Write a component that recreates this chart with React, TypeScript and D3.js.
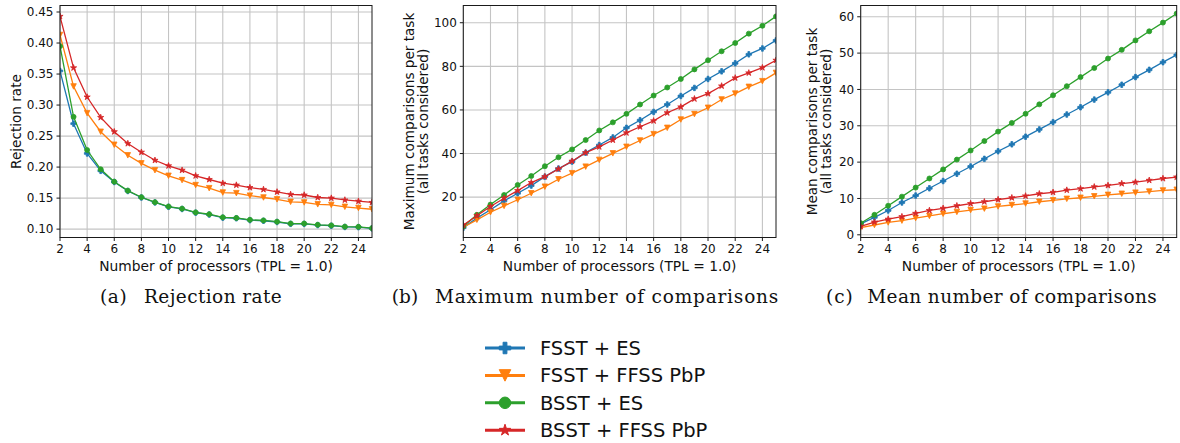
import React from "react";
import * as d3 from "d3";

const processors = [2, 3, 4, 5, 6, 7, 8, 9, 10, 11, 12, 13, 14, 15, 16, 17, 18, 19, 20, 21, 22, 23, 24, 25];
const xTicks = [2, 4, 6, 8, 10, 12, 14, 16, 18, 20, 22, 24];

const seriesNames = ["FSST + ES", "FSST + FFSS PbP", "BSST + ES", "BSST + FFSS PbP"];
const seriesColors = ["#1f77b4", "#ff7f0e", "#2ca02c", "#d62728"];
const seriesMarkers = ["P", "v", "o", "*"];

// (a) Rejection rate
const rejFSSTES = [0.355, 0.270, 0.222, 0.194, 0.176, 0.1615, 0.151, 0.143, 0.136, 0.1325, 0.1265, 0.1235, 0.1185, 0.1175, 0.1145, 0.1135, 0.1115, 0.1085, 0.1085, 0.1065, 0.1055, 0.1035, 0.1032, 0.1012];
const rejFSSTFFSS = [0.413, 0.330, 0.287, 0.257, 0.236, 0.219, 0.206, 0.195, 0.186, 0.179, 0.171, 0.166, 0.159, 0.158, 0.154, 0.151, 0.148, 0.144, 0.143, 0.140, 0.139, 0.136, 0.134, 0.132];
const rejBSSTES = [0.395, 0.281, 0.2275, 0.1965, 0.1765, 0.162, 0.1514, 0.1434, 0.1364, 0.133, 0.127, 0.124, 0.119, 0.118, 0.115, 0.114, 0.112, 0.109, 0.109, 0.107, 0.106, 0.104, 0.1037, 0.1016];
const rejBSSTFFSS = [0.443, 0.360, 0.313, 0.280, 0.257, 0.238, 0.224, 0.211, 0.202, 0.195, 0.186, 0.180, 0.174, 0.171, 0.167, 0.164, 0.160, 0.156, 0.155, 0.151, 0.150, 0.147, 0.145, 0.143];

// (b) Maximum comparisons
const maxFSSTES = [6.0, 10.4, 14.2, 18.3, 21.8, 25.3, 29.4, 33.1, 36.3, 40.4, 43.9, 47.4, 51.8, 55.3, 59.1, 62.5, 66.4, 70.1, 74.2, 77.7, 81.4, 85.5, 88.2, 91.9];
const maxFSSTFFSS = [6.2, 9.6, 13.1, 16.0, 18.8, 21.8, 24.8, 28.2, 31.0, 34.0, 37.1, 40.1, 43.1, 46.0, 48.9, 51.8, 55.6, 58.1, 61.0, 64.8, 67.5, 70.6, 73.2, 77.0];
const maxBSSTES = [6.6, 11.9, 16.6, 21.0, 25.6, 29.7, 34.2, 38.3, 41.9, 46.2, 50.6, 54.3, 58.2, 62.5, 66.6, 70.3, 74.2, 78.6, 82.8, 86.9, 90.7, 95.0, 98.6, 102.9];
const maxBSSTFFSS = [7.2, 11.5, 15.7, 19.5, 23.0, 26.7, 29.4, 32.9, 36.5, 40.4, 43.1, 46.2, 49.5, 52.3, 55.0, 58.7, 61.4, 65.1, 67.5, 71.0, 74.7, 77.0, 79.4, 82.8];

// (c) Mean comparisons
const meanFSSTES = [3.0, 4.8, 6.7, 8.9, 10.8, 12.8, 14.8, 16.8, 18.8, 20.9, 23.0, 24.9, 27.0, 29.0, 31.0, 33.1, 35.1, 37.2, 39.2, 41.3, 43.4, 45.4, 47.5, 49.5];
const meanFSSTFFSS = [2.0, 2.7, 3.4, 3.9, 4.6, 5.2, 5.8, 6.3, 6.8, 7.2, 7.8, 8.2, 8.6, 9.1, 9.5, 9.9, 10.2, 10.6, 11.0, 11.3, 11.6, 11.9, 12.2, 12.4];
const meanBSSTES = [3.2, 5.5, 8.0, 10.5, 13.0, 15.5, 18.0, 20.7, 23.2, 25.8, 28.4, 30.8, 33.3, 35.9, 38.4, 40.9, 43.4, 45.9, 48.5, 50.9, 53.5, 56.0, 58.4, 60.9];
const meanBSSTFFSS = [2.3, 3.5, 4.3, 5.0, 5.9, 6.7, 7.3, 8.0, 8.6, 9.1, 9.7, 10.2, 10.7, 11.3, 11.7, 12.3, 12.7, 13.2, 13.6, 14.1, 14.5, 15.0, 15.5, 15.9];

const rejTicks = [0.10, 0.15, 0.20, 0.25, 0.30, 0.35, 0.40, 0.45];
const maxTicks = [20, 40, 60, 80, 100];
const meanTicks = [0, 10, 20, 30, 40, 50, 60];

const xLabel = "Number of processors (TPL = 1.0)";

const SANS = "'DejaVu Sans', sans-serif";
const SERIF = "'DejaVu Serif', serif";

function markerPath(type: string, s: number): string {
  if (type === "o") {
    const r = s / 2;
    return `M${r},0A${r},${r} 0 1,1 ${-r},0A${r},${r} 0 1,1 ${r},0Z`;
  }
  if (type === "v") {
    const h = s / 2;
    return `M0,${h}L${-h},${-h}L${h},${-h}Z`;
  }
  if (type === "P") {
    const pts = [[-1, -3], [1, -3], [1, -1], [3, -1], [3, 1], [1, 1], [1, 3], [-1, 3], [-1, 1], [-3, 1], [-3, -1], [-1, -1]];
    return "M" + pts.map(([a, b]) => `${(a / 6) * s},${(b / 6) * s}`).join("L") + "Z";
  }
  // star
  const R = s / 2;
  const r = R * 0.381966;
  const pts: string[] = [];
  for (let i = 0; i < 10; i++) {
    const ang = -Math.PI / 2 + (i * Math.PI) / 5;
    const rr = i % 2 === 0 ? R : r;
    pts.push(`${(rr * Math.cos(ang)).toFixed(2)},${(rr * Math.sin(ang)).toFixed(2)}`);
  }
  return "M" + pts.join("L") + "Z";
}

const plotMarkerSize: Record<string, number> = { o: 5, v: 5.5, P: 5.5, "*": 6.5 };
const legendMarkerSize: Record<string, number> = { o: 11.5, v: 11.5, P: 11.5, "*": 12 };

const TOP = 5.5;
const BOTTOM = 237.5;

type PanelProps = {
  id: string;
  left: number;
  right: number;
  yDomain: [number, number];
  yTicks: number[];
  fmt: (v: number) => string;
  data: number[][];
  yLabel: string[];
  yLabelX: number[];
};

function Panel(p: PanelProps) {
  const x = d3.scaleLinear().domain([2, 25]).range([p.left, p.right]);
  const y = d3.scaleLinear().domain(p.yDomain).range([BOTTOM, TOP]);
  const line = d3
    .line<number>()
    .x((_, i) => x(processors[i]))
    .y((d) => y(d));
  const cy = (TOP + BOTTOM) / 2;
  const cx = (p.left + p.right) / 2;
  return (
    <g>
      <defs>
        <clipPath id={`clip-${p.id}`}>
          <rect x={p.left} y={TOP} width={p.right - p.left} height={BOTTOM - TOP} />
        </clipPath>
      </defs>
      {xTicks.map((t) => (
        <line key={`gx${t}`} x1={x(t)} x2={x(t)} y1={TOP} y2={BOTTOM} stroke="#c4c4c4" strokeWidth={1.1} />
      ))}
      {p.yTicks.map((t) => (
        <line key={`gy${t}`} x1={p.left} x2={p.right} y1={y(t)} y2={y(t)} stroke="#c4c4c4" strokeWidth={1.1} />
      ))}
      <g clipPath={`url(#clip-${p.id})`}>
        {p.data.map((vals, si) => (
          <g key={si}>
            <path d={line(vals) || ""} fill="none" stroke={seriesColors[si]} strokeWidth={1.3} />
            {vals.map((v, i) => (
              <path
                key={i}
                d={markerPath(seriesMarkers[si], plotMarkerSize[seriesMarkers[si]])}
                transform={`translate(${x(processors[i])},${y(v)})`}
                fill={seriesColors[si]}
                stroke={seriesColors[si]}
                strokeWidth={0.8}
                strokeLinejoin="round"
              />
            ))}
          </g>
        ))}
      </g>
      <rect x={p.left} y={TOP} width={p.right - p.left} height={BOTTOM - TOP} fill="none" stroke="#1a1a1a" strokeWidth={1} />
      {xTicks.map((t) => (
        <g key={`tx${t}`}>
          <line x1={x(t)} x2={x(t)} y1={BOTTOM} y2={BOTTOM + 3.5} stroke="#1a1a1a" strokeWidth={1} />
          <text x={x(t)} y={252.7} textAnchor="middle" fontSize={12} fontFamily={SANS} fill="#111">
            {t}
          </text>
        </g>
      ))}
      {p.yTicks.map((t) => (
        <g key={`ty${t}`}>
          <line x1={p.left - 3.5} x2={p.left} y1={y(t)} y2={y(t)} stroke="#1a1a1a" strokeWidth={1} />
          <text x={p.left - 6.5} y={y(t)} dy="0.36em" textAnchor="end" fontSize={12} fontFamily={SANS} fill="#111">
            {p.fmt(t)}
          </text>
        </g>
      ))}
      <text x={cx} y={270.5} textAnchor="middle" fontSize={13.8} fontFamily={SANS} fill="#111">
        {xLabel}
      </text>
      {p.yLabel.map((s, i) => (
        <text
          key={s}
          transform={`translate(${p.yLabelX[i]},${cy}) rotate(-90)`}
          textAnchor="middle"
          fontSize={13.6}
          fontFamily={SANS}
          fill="#111"
        >
          {s}
        </text>
      ))}
    </g>
  );
}

const captions = [
  { tag: "(a)", text: "Rejection rate", tagX: 100, tagW: 26.7, textX: 144, textW: 137.7 },
  { tag: "(b)", text: "Maximum number of comparisons", tagX: 391.7, tagW: 26.5, textX: 435, textW: 343.3 },
  { tag: "(c)", text: "Mean number of comparisons", tagX: 826, tagW: 26.7, textX: 867.3, textW: 289.4 },
];

export default function App() {
  const fmt2 = d3.format(".2f");
  const fmt0 = d3.format("d");
  const legendRows = [348, 375.4, 402.8, 430.2];
  return (
    <svg
      width={1180}
      height={443}
      style={{ position: "absolute", left: 0, top: 0, background: "#fff" }}
      xmlns="http://www.w3.org/2000/svg"
    >
      <rect width={1180} height={443} fill="#fff" />
      <Panel
        id="a"
        left={60}
        right={372}
        yDomain={[0.0865, 0.4605]}
        yTicks={rejTicks}
        fmt={fmt2}
        data={[rejFSSTES, rejFSSTFFSS, rejBSSTES, rejBSSTFFSS]}
        yLabel={["Rejection rate"]}
        yLabelX={[20.5]}
      />
      <Panel
        id="b"
        left={463.3}
        right={776}
        yDomain={[1.5, 107.9]}
        yTicks={maxTicks}
        fmt={fmt0}
        data={[maxFSSTES, maxFSSTFFSS, maxBSSTES, maxBSSTFFSS]}
        yLabel={["Maximum comparisons per task", "(all tasks considered)"]}
        yLabelX={[413.5, 428]}
      />
      <Panel
        id="c"
        left={860.7}
        right={1176.7}
        yDomain={[-0.74, 63.1]}
        yTicks={meanTicks}
        fmt={fmt0}
        data={[meanFSSTES, meanFSSTFFSS, meanBSSTES, meanBSSTFFSS]}
        yLabel={["Mean comparisons per task", "(all tasks considered)"]}
        yLabelX={[816.7, 831]}
      />
      {captions.map((c) => (
        <g key={c.tag} fontFamily={SERIF} fontSize={18.5} fill="#111">
          <text x={c.tagX} y={302.7} textLength={c.tagW} lengthAdjust="spacing">
            {c.tag}
          </text>
          <text x={c.textX} y={302.7} textLength={c.textW} lengthAdjust="spacing">
            {c.text}
          </text>
        </g>
      ))}
      {seriesNames.map((name, i) => (
        <g key={name}>
          <line x1={485} x2={525} y1={legendRows[i]} y2={legendRows[i]} stroke={seriesColors[i]} strokeWidth={3} />
          <path
            d={markerPath(seriesMarkers[i], legendMarkerSize[seriesMarkers[i]])}
            transform={`translate(505,${legendRows[i]})`}
            fill={seriesColors[i]}
            stroke={seriesColors[i]}
            strokeWidth={1}
            strokeLinejoin="round"
          />
          <text x={540} y={legendRows[i] + 7} fontSize={19.5} fontFamily={SANS} fill="#111">
            {name}
          </text>
        </g>
      ))}
    </svg>
  );
}
